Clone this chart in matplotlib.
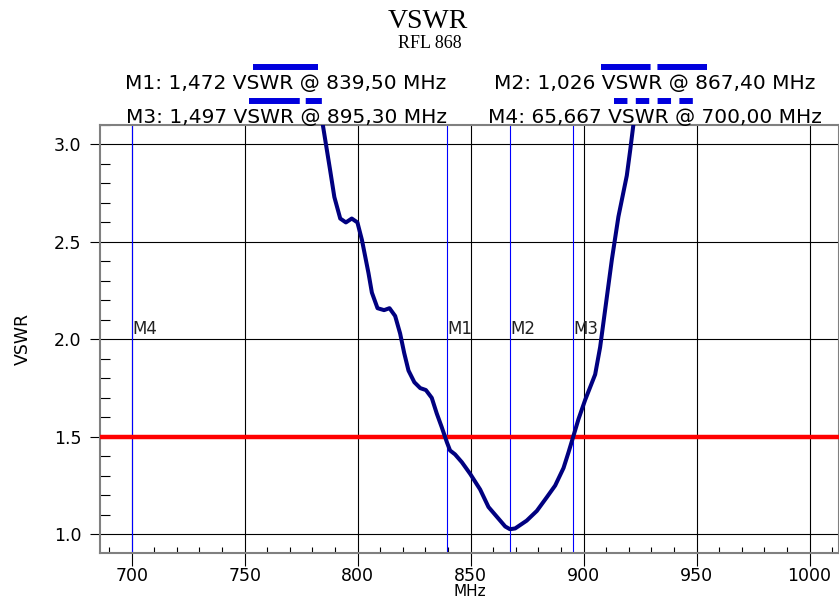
import matplotlib.pyplot as plt
from matplotlib.ticker import MultipleLocator, FormatStrFormatter
from matplotlib.lines import Line2D

# VSWR trace
freq = [780, 784.6, 787.8, 789.7, 792.3, 794.8, 797.4, 799.9, 801.9, 804.8, 806.3,
        808.8, 811.7, 814.1, 816.6, 818.8, 820.6, 822.5, 825.1, 827.7, 830.2,
        832.8, 835.0, 837.2, 839.5, 840.9, 843.1, 846.1, 849.8, 854.2, 857.9,
        861.6, 865.3, 867.4, 869.7, 874.8, 879.3, 883.7, 887.4, 891.1, 893.3,
        895.3, 897.7, 900.7, 905.1, 907.3, 909.5, 912.5, 915.4, 919.1, 920.6,
        922.0, 925.0]
vswr = [3.40, 3.10, 2.87, 2.73, 2.62, 2.60, 2.62, 2.60, 2.51, 2.34, 2.24,
        2.16, 2.15, 2.16, 2.12, 2.03, 1.93, 1.84, 1.78, 1.75, 1.74,
        1.70, 1.62, 1.55, 1.472, 1.43, 1.41, 1.37, 1.31, 1.23, 1.14,
        1.09, 1.04, 1.026, 1.03, 1.07, 1.12, 1.19, 1.25, 1.34, 1.42,
        1.497, 1.59, 1.69, 1.82, 1.96, 2.15, 2.41, 2.63, 2.84, 2.97,
        3.10, 3.35]

marker_names = ["M1", "M2", "M3", "M4"]
marker_freq = [839.5, 867.4, 895.3, 700.0]
marker_text = ["M1: 1,472 VSWR @ 839,50 MHz", "M2: 1,026 VSWR @ 867,40 MHz",
               "M3: 1,497 VSWR @ 895,30 MHz", "M4: 65,667 VSWR @ 700,00 MHz"]
marker_styles = ["-", (0, (8.3, 1.15)), (0, (8.5, 1.0, 2.7, 1.0)), (0, (2.25, 1.4))]
limit = 1.5

plt.rcParams['font.family'] = ['DejaVu Sans']

fig = plt.figure(figsize=(8.39, 6.02), dpi=100)
ax = fig.add_axes([0.1192, 0.0814, 0.8808, 0.711])

ax.set_xlim(686, 1013)
ax.set_ylim(0.904, 3.10)

ax.grid(True, which='major', color='black', linewidth=0.8)
ax.set_axisbelow(True)

for name, f in zip(marker_names, marker_freq):
    ax.axvline(f, color='#0000ff', linewidth=0.8, zorder=2)
    ax.text(f + 0.3, 2.005, name, fontsize=12, color='#222222', va='bottom', ha='left', zorder=5)

ax.axhline(limit, color='#ff0000', linewidth=3.2, zorder=3)
ax.plot(freq, vswr, color='#000080', linewidth=2.9, zorder=4)

ax.xaxis.set_major_locator(MultipleLocator(50))
ax.xaxis.set_minor_locator(MultipleLocator(10))
ax.yaxis.set_major_locator(MultipleLocator(0.5))
ax.yaxis.set_minor_locator(MultipleLocator(0.1))
ax.yaxis.set_major_formatter(FormatStrFormatter('%.1f'))

ax.tick_params(axis='y', which='major', direction='out', length=7.2, width=0.8,
               labelsize=12.5, color='black', pad=6)
ax.tick_params(axis='x', which='major', direction='out', length=9.4, width=0.8,
               labelsize=12.5, color='black', pad=1)
ax.tick_params(axis='y', which='minor', direction='in', length=7.2, width=0.8, color='black')
ax.tick_params(axis='x', which='minor', direction='in', length=4.3, width=0.8, color='black')

for side in ['left', 'bottom', 'top', 'right']:
    ax.spines[side].set_color('#808080')
    ax.spines[side].set_linewidth(1.5)

ax.set_xlabel("MHz", fontsize=11)
ax.xaxis.set_label_coords(0.5, -0.072)
ax.set_ylabel("VSWR", fontsize=12.5, labelpad=16)

fig.text(428 / 839, 1 - 21 / 602, "VSWR", ha='center', va='center', fontsize=20,
         family='Liberation Serif')
fig.text(430 / 839, 1 - 43 / 602, "RFL 868", ha='center', va='center', fontsize=13,
         family='Liberation Serif')

# marker legend
W, H = 839, 602
text_pos = [(286, 83), (655, 83), (286, 117), (655, 117)]
line_pos = [(253, 318, 67), (601, 709, 67), (249, 322, 101), (614, 697, 101)]
for txt, (tx, ty), (x0, x1, ly), ls in zip(marker_text, text_pos, line_pos, marker_styles):
    fig.text(tx / W, 1 - ty / H, txt, ha='center', va='center', fontsize=14.5)
    fig.add_artist(Line2D([x0 / W, x1 / W], [1 - ly / H] * 2, transform=fig.transFigure,
                          color='#0000dd', linewidth=4.3, linestyle=ls,
                          solid_capstyle='butt', dash_capstyle='butt'))

fig.savefig("out.png", dpi=100)
